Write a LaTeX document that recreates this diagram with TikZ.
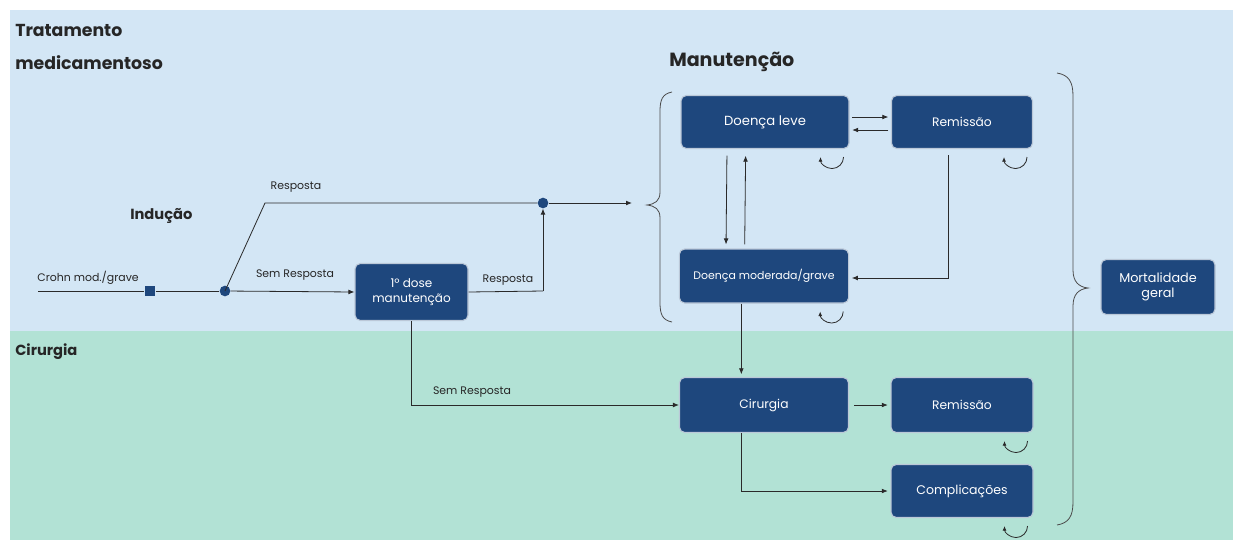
\documentclass[tikz,border=0pt]{standalone}
\usepackage{fontspec}
\setmainfont{Poppins}
\usetikzlibrary{arrows.meta,calc}
\definecolor{bgblue}{HTML}{D3E6F5}
\definecolor{bggreen}{HTML}{B2E2D5}
\definecolor{navy}{HTML}{1E477D}
\definecolor{linec}{HTML}{2A2A2A}
\tikzset{
  box/.style={draw=white!70!navy, line width=0.8pt, fill=navy, rounded corners=4pt, text=white, align=center, font=\fontsize{9.2}{10.5}\selectfont, inner sep=1pt},
  arr/.style={draw=linec, line width=0.6pt, -{Latex[length=4.5pt,width=3.6pt]}},
  ln/.style={draw=linec, line width=0.6pt},
  lbl/.style={font=\fontsize{8.2}{9.5}\selectfont, text=black!85, inner sep=0pt},
  ttl/.style={font=\bfseries\fontsize{13}{15}\selectfont, text=black!85, inner sep=0pt, anchor=west},
  dot/.style={circle, fill=navy, inner sep=0pt, minimum size=8pt},
  loopa/.style={draw=linec, line width=0.6pt, {Latex[length=3.5pt,width=3pt]}-}
}
\begin{document}
\begin{tikzpicture}[x=0.75pt,y=-0.75pt]
\useasboundingbox (0,0) rectangle (1233,540);
\fill[white] (0,0) rectangle (1233,540);
\fill[bgblue] (10,10) rectangle (1233,331);
\fill[bggreen] (10,331) rectangle (1233,540);

% titles
\node[ttl] (t1) at (15,30) {Tratamento};
\node[ttl] (t2) at (15,63) {medicamentoso};
\node[ttl, font=\bfseries\fontsize{11}{13}\selectfont] (t3) at (15,352) {Cirurgia};
\node[ttl, font=\bfseries\fontsize{14.3}{16}\selectfont] (t4) at (669,62) {Manutenção};
\node[ttl, font=\bfseries\fontsize{11}{13}\selectfont] (t5) at (130,216) {Indução};

% boxes
\node[box, minimum width=126pt, minimum height=39.75pt, font=\fontsize{9.9}{11}\selectfont] (dl) at (765,122) {Doença leve};
\node[box, minimum width=105.75pt, minimum height=39.75pt] (rm) at (962,122) {Remissão};
\node[box, minimum width=127pt, minimum height=40.5pt, font=\fontsize{8.2}{9.5}\selectfont] (dm) at (764,276) {Doença moderada/grave};
\node[box, minimum width=84.75pt, minimum height=42.75pt, font=\fontsize{9}{11.5}\selectfont] (d1) at (411.5,292) {1º dose\\manutenção};
\node[box, minimum width=126.75pt, minimum height=41.25pt] (ci) at (764,405) {Cirurgia};
\node[box, minimum width=106.5pt, minimum height=41.25pt] (r2) at (962,405) {Remissão};
\node[box, minimum width=106.5pt, minimum height=39.75pt, font=\fontsize{9.4}{11}\selectfont] (co) at (962,491) {Complicações};
\node[box, minimum width=85.5pt, minimum height=41.25pt, font=\fontsize{9.6}{11}\selectfont] (mo) at (1158,287) {Mortalidade\\geral};

% induction path
\coordinate (st) at (38,291);
\node[fill=navy, minimum size=8pt, inner sep=0pt] (sq) at (150,291) {};
\node[dot] (c1) at (225,291) {};
\coordinate (k1) at (265,203);
\node[dot] (c2) at (543,203) {};
\coordinate (br) at (632,203);
\coordinate (k2) at (543,291);

\draw[ln] (st) -- (sq) -- (c1);
\draw[ln] (c1.center) -- (k1) -- (c2);
\draw[arr] (c2) -- (br);
\draw[arr] (c1) -- (d1.west);
\draw[ln] (d1.east) -- (k2);
\draw[arr] (k2) -- (c2.south);
\draw[arr] (d1.south) |- (ci.west);

\node[lbl] (l1) at (88,278) {Crohn mod./grave};
\node[lbl] (l2) at (296,187) {Resposta};
\node[lbl] (l3) at (295,275) {Sem Resposta};
\node[lbl] (l4) at (508,280) {Resposta};
\node[lbl] (l5) at (472,392) {Sem Resposta};

% maintenance transitions
\draw[arr] ([xshift=2pt,yshift=3.75pt]dl.east) -- ([xshift=-2pt,yshift=3.75pt]rm.west);
\draw[arr] ([xshift=-2pt,yshift=-6pt]rm.west) -- ([xshift=2pt,yshift=-6pt]dl.east);
\draw[arr, shorten <=5pt, shorten >=3pt] ([xshift=-28.5pt]dl.south) -- ([xshift=-28.5pt]dm.north);
\draw[arr, shorten <=3pt, shorten >=5pt] ([xshift=-14.5pt]dm.north) -- ([xshift=-14.5pt]dl.south);
\coordinate (rs) at (948,155);
\draw[arr] (rs) |- ([xshift=2pt,yshift=-1.5pt]dm.east);
\draw[arr] ([xshift=-17pt]dm.south) -- ([xshift=-17pt,yshift=2pt]ci.north);
\draw[arr] ([xshift=4pt]ci.east) -- ([xshift=-2pt]r2.west);
\draw[arr] ([xshift=-17pt]ci.south) |- ([xshift=-2pt]co.west);

% self loops
\foreach \n in {dl,rm,dm,r2,co}{
  \draw[loopa] ($(\n.south east)+(-29,8)$) arc[start angle=180,end angle=0,radius=11.5];
}

% braces
\draw[draw=black!70, line width=0.6pt] (672,92) .. controls (662,94) and (660,100) .. (660,112) -- (660,192) .. controls (660,201) and (655,204) .. (647,205) .. controls (655,206) and (660,209) .. (660,218) -- (660,302) .. controls (660,314) and (662,320) .. (672,322);
\draw[draw=black!70, line width=0.6pt] (1057,73) .. controls (1069,75) and (1073,82) .. (1073,96) -- (1073,270) .. controls (1073,282) and (1079,287) .. (1088,288) .. controls (1079,289) and (1073,294) .. (1073,306) -- (1073,502) .. controls (1073,516) and (1069,523) .. (1057,525);
\end{tikzpicture}
\end{document}
